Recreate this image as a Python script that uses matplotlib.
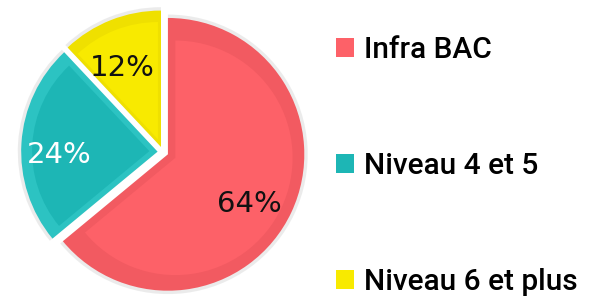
import matplotlib.pyplot as plt
import matplotlib.transforms as mtransforms
from matplotlib.patches import Patch

# data
labels = ["Infra BAC", "Niveau 4 et 5", "Niveau 6 et plus"]
values = [64, 24, 12]

face_colors = ["#fd6168", "#1db6b5", "#f8ea00"]
rim_colors = ["#f25a61", "#2cc3c2", "#efe000"]
text_colors = ["#111111", "#ffffff", "#111111"]

W, H = 593, 298
fig = plt.figure(figsize=(W / 100, H / 100), dpi=100)

# pie axes centred at pixel (163, 152), ~136 px per unit
cx, cy, half = 163, 152, 150
ax = fig.add_axes([(cx - half) / W, (H - cy - half) / H, 2 * half / W, 2 * half / H])
ax.set_aspect("equal")
ax.axis("off")

expl = [0.04, 0.04, 0.04]

# soft shadow
ax.pie(values, radius=1.025, startangle=90, counterclock=False,
       explode=expl, colors=["#d9d9d9"] * 3, wedgeprops=dict(alpha=0.5, lw=0))

# outer rim (bevel)
ax.pie(values, radius=1.0, startangle=90, counterclock=False,
       explode=expl, colors=rim_colors, wedgeprops=dict(lw=0))

# inner face
inner, _, autotexts = ax.pie(values, radius=0.86, startangle=90, counterclock=False,
                             explode=[e + 0.06 for e in expl], colors=face_colors,
                             wedgeprops=dict(lw=0), autopct="%d%%", pctdistance=0.74)
# labels sit a bit lower than the wedge bisector in the original
shift = mtransforms.ScaledTranslation(-4 / 100, -9 / 100, fig.dpi_scale_trans)
for t, c in zip(autotexts, text_colors):
    t.set_color(c)
    t.set_fontsize(21)
    t.set_family("DejaVu Sans")
    t.set_transform(t.get_transform() + shift)
ax.set_xlim(-1.1, 1.1)
ax.set_ylim(-1.1, 1.1)

handles = [Patch(facecolor=c, edgecolor="none") for c in face_colors]
fig.legend(handles, labels, loc="center left", bbox_to_anchor=(336 / W, 0.443),
           frameon=False, prop=dict(family="Roboto", size=21.5, weight="medium"),
           handlelength=0.6, handleheight=0.6, handletextpad=0.35,
           labelspacing=2.95, borderpad=0, borderaxespad=0)

fig.savefig("out.png", dpi=100)
